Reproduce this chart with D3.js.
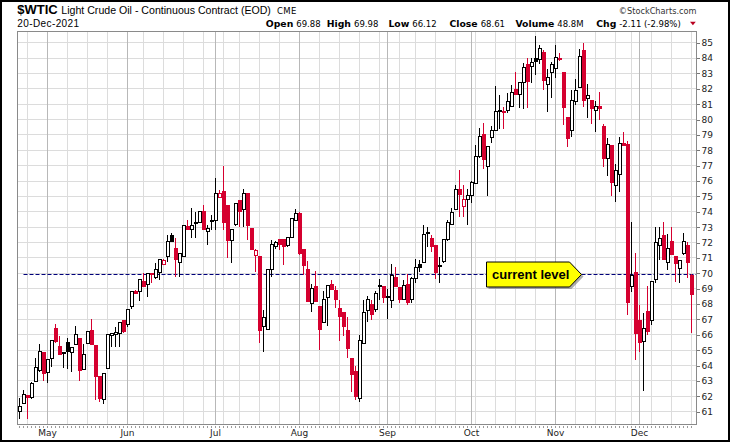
<!DOCTYPE html>
<html>
<head>
<meta charset="utf-8">
<script src="https://cdn.jsdelivr.net/npm/d3@7"></script>
<style>
  body { margin: 0; background: #fff; }
  svg { display: block; }
</style>
</head>
<body>
<div id="chart"></div>
<script>
// trading days shown on the chart
var dates = [
  "2021-04-22","2021-04-23","2021-04-26","2021-04-27","2021-04-28","2021-04-29","2021-04-30",
  "2021-05-03","2021-05-04","2021-05-05","2021-05-06","2021-05-07","2021-05-10","2021-05-11","2021-05-12","2021-05-13","2021-05-14",
  "2021-05-17","2021-05-18","2021-05-19","2021-05-20","2021-05-21","2021-05-24","2021-05-25","2021-05-26","2021-05-27","2021-05-28",
  "2021-06-01","2021-06-02","2021-06-03","2021-06-04","2021-06-07","2021-06-08","2021-06-09","2021-06-10","2021-06-11",
  "2021-06-14","2021-06-15","2021-06-16","2021-06-17","2021-06-18","2021-06-21","2021-06-22","2021-06-23","2021-06-24","2021-06-25",
  "2021-06-28","2021-06-29","2021-06-30",
  "2021-07-01","2021-07-02","2021-07-06","2021-07-07","2021-07-08","2021-07-09","2021-07-12","2021-07-13","2021-07-14","2021-07-15",
  "2021-07-16","2021-07-19","2021-07-20","2021-07-21","2021-07-22","2021-07-23","2021-07-26","2021-07-27","2021-07-28","2021-07-29","2021-07-30",
  "2021-08-02","2021-08-03","2021-08-04","2021-08-05","2021-08-06","2021-08-09","2021-08-10","2021-08-11","2021-08-12","2021-08-13",
  "2021-08-16","2021-08-17","2021-08-18","2021-08-19","2021-08-20","2021-08-23","2021-08-24","2021-08-25","2021-08-26","2021-08-27",
  "2021-08-30","2021-08-31",
  "2021-09-01","2021-09-02","2021-09-03","2021-09-07","2021-09-08","2021-09-09","2021-09-10","2021-09-13","2021-09-14","2021-09-15",
  "2021-09-16","2021-09-17","2021-09-20","2021-09-21","2021-09-22","2021-09-23","2021-09-24","2021-09-27","2021-09-28","2021-09-29","2021-09-30",
  "2021-10-01","2021-10-04","2021-10-05","2021-10-06","2021-10-07","2021-10-08","2021-10-11","2021-10-12","2021-10-13","2021-10-14",
  "2021-10-15","2021-10-18","2021-10-19","2021-10-20","2021-10-21","2021-10-22","2021-10-25","2021-10-26","2021-10-27","2021-10-28","2021-10-29",
  "2021-11-01","2021-11-02","2021-11-03","2021-11-04","2021-11-05","2021-11-08","2021-11-09","2021-11-10","2021-11-11","2021-11-12",
  "2021-11-15","2021-11-16","2021-11-17","2021-11-18","2021-11-19","2021-11-22","2021-11-23","2021-11-24","2021-11-26","2021-11-29","2021-11-30",
  "2021-12-01","2021-12-02","2021-12-03","2021-12-06","2021-12-07","2021-12-08","2021-12-09","2021-12-10","2021-12-13","2021-12-14",
  "2021-12-15","2021-12-16","2021-12-17","2021-12-20"
];

var opens = [
  61.00,61.55,62.05,61.90,62.95,63.65,64.85,
  63.55,64.45,66.40,65.25,64.86,65.50,64.88,65.40,65.77,63.75,65.45,66.25,65.30,63.28,61.80,63.82,65.95,65.99,66.10,66.90,
  66.64,67.87,68.85,68.80,69.50,69.25,70.02,69.70,70.06,70.60,71.08,72.45,71.62,70.70,71.10,73.03,72.86,73.28,73.30,74.00,72.70,73.43,
  73.42,74.95,75.35,74.38,72.12,73.20,74.73,74.16,75.16,72.92,71.18,71.08,66.53,66.36,70.22,71.73,72.17,72.17,71.84,72.34,73.42,
  73.90,71.52,70.28,68.05,69.13,67.83,66.79,68.42,69.30,68.87,67.68,67.44,66.31,64.43,63.60,61.87,65.45,67.61,67.94,67.66,69.24,69.17,
  68.44,68.26,69.72,69.06,68.31,69.30,68.30,69.68,70.60,70.70,72.65,72.27,71.78,70.50,70.76,72.17,73.20,74.12,75.45,74.33,74.77,
  75.05,75.85,77.63,79.00,76.94,78.84,79.32,80.60,80.55,80.56,80.84,81.97,81.60,82.42,83.55,83.45,83.95,83.92,84.35,82.25,83.07,
  83.33,83.98,83.05,80.15,79.32,81.16,82.10,84.52,81.38,81.23,80.62,80.88,79.58,77.48,78.30,75.70,76.40,78.46,78.35,69.13,70.04,
  66.96,65.55,67.50,66.96,69.60,71.84,72.49,70.70,72.06,71.08,70.33,71.26,71.78,69.88
];
var highs = [
  61.87,62.40,62.10,62.90,64.50,65.40,64.90,
  64.45,65.65,66.70,65.90,64.90,65.80,65.23,66.57,65.80,65.40,66.25,67.00,65.30,63.30,63.50,66.00,66.10,66.50,66.85,66.90,
  67.70,68.80,68.90,69.60,70.00,70.05,70.05,70.65,70.90,70.90,72.50,72.60,72.27,71.30,73.15,73.47,74.23,74.00,74.05,74.44,73.14,73.80,
  76.18,75.40,76.98,74.40,72.90,74.55,74.75,75.48,75.20,72.95,71.55,71.10,67.60,70.30,72.15,72.10,72.20,72.20,72.36,73.60,74.16,
  74.00,71.55,70.80,69.28,70.15,67.85,68.85,69.24,69.57,69.17,68.26,67.45,67.18,64.45,63.97,65.99,68.26,68.52,68.26,68.85,69.63,69.20,
  69.00,70.59,70.43,69.10,69.55,69.93,69.75,70.90,70.85,73.14,73.00,72.49,71.80,71.08,72.20,73.47,74.23,75.74,76.72,75.74,75.50,
  76.00,78.35,79.43,79.80,78.30,79.60,82.18,81.60,80.84,81.71,82.25,83.10,82.45,83.66,83.98,84.00,85.41,84.85,84.52,83.27,83.75,
  84.85,84.35,83.10,80.20,81.92,82.62,84.57,84.96,82.30,81.25,81.23,81.82,79.70,78.82,78.35,77.09,78.89,79.20,78.60,73.36,71.30,
  67.94,67.40,69.17,69.50,73.03,73.03,73.36,72.56,72.99,71.10,70.85,72.64,72.06,69.98
];
var lows = [
  60.55,61.50,60.50,61.85,62.90,63.60,63.00,
  62.85,63.90,65.50,64.70,63.85,63.80,63.60,65.35,63.00,63.75,65.40,65.35,61.76,61.60,61.48,63.82,65.23,65.23,65.23,66.10,
  66.50,67.66,68.70,68.20,69.10,68.48,69.35,69.60,69.57,70.60,70.76,72.06,69.74,69.78,71.05,72.80,72.30,72.27,73.25,72.82,71.84,72.80,
  72.82,74.90,72.82,71.02,70.70,73.10,73.00,73.03,72.17,71.55,70.10,65.49,64.90,66.30,69.78,71.60,71.50,70.54,71.70,72.30,73.40,
  71.20,69.89,68.11,67.51,68.20,65.00,66.75,66.60,68.95,67.72,65.62,65.95,64.47,62.30,61.76,61.65,65.40,66.86,66.96,67.50,68.26,68.10,
  67.03,67.77,69.15,68.10,68.28,67.95,68.05,69.35,70.10,70.65,71.73,71.41,69.61,69.35,70.65,72.10,73.15,74.10,73.68,73.68,73.14,
  74.60,75.80,77.50,76.79,75.00,78.50,79.30,79.39,79.39,80.40,80.80,81.60,80.73,80.69,80.73,82.40,82.90,83.60,81.92,80.52,81.38,
  82.68,83.80,79.65,78.20,78.89,80.95,82.05,80.80,80.08,79.71,79.21,79.97,76.89,76.35,75.05,74.66,75.27,78.25,67.29,68.81,64.36,
  64.90,62.37,65.99,66.64,69.40,70.87,70.85,70.22,71.20,69.46,69.35,71.20,69.68,66.12
];
var closes = [
  61.37,62.10,61.90,62.85,63.85,64.90,63.50,
  64.40,65.60,65.55,64.72,64.88,64.90,65.17,66.05,63.71,64.73,66.20,65.40,63.28,61.87,63.50,65.99,66.10,66.16,66.80,66.20,
  67.65,68.80,68.72,69.57,69.13,70.00,69.95,70.26,70.87,70.85,72.06,72.10,70.93,71.30,73.08,72.82,73.08,73.30,74.00,72.82,72.92,73.45,
  75.20,75.16,73.30,72.12,72.88,74.51,74.01,75.20,73.08,71.58,71.50,66.25,67.14,70.28,71.88,72.02,71.88,71.73,72.34,73.58,73.90,
  71.26,70.54,68.16,69.03,68.20,66.35,68.27,69.24,68.98,68.33,67.18,66.53,65.12,63.39,62.02,65.60,67.46,68.31,67.29,68.70,69.13,68.42,
  68.50,69.89,69.17,68.31,69.20,68.09,69.68,70.37,70.40,72.53,72.62,71.73,70.04,70.45,72.17,73.30,73.95,75.42,75.14,74.83,75.05,
  75.90,77.63,78.93,77.41,78.24,79.32,80.51,80.55,80.45,81.17,81.75,81.66,82.42,83.40,82.47,83.70,83.76,84.63,82.57,82.75,83.55,
  84.05,83.88,80.80,78.78,81.27,81.88,84.09,81.27,81.55,80.69,80.84,80.69,77.44,78.39,75.90,76.72,78.46,78.30,68.10,69.89,66.10,
  65.49,66.42,66.20,69.46,71.99,72.27,70.91,71.62,71.23,70.65,70.83,72.06,70.72,68.61
];

var priceTicks = [61,62,63,64,65,66,67,68,69,70,71,72,73,74,75,76,77,78,79,80,81,82,83,84,85];
var currentLevel = 69.9;
var quoteLabels = ["Open", "High", "Low", "Close", "Volume", "Chg"];
var quoteValues = ["69.88", "69.98", "66.12", "68.61", "48.8M", "-2.11 (-2.98%)"];
var quoteValueX = [296.3, 354, 412.3, 480.7, 557.3, 619.3];

var w = 730;
var h = 442;
var plotL = 17.5, plotR = 696.5, plotT = 31.5, plotB = 424.5;
var red = "#d5002f";
var fontSans = "'Liberation Sans', Arial, sans-serif";
var fontAxis = "'DejaVu Sans', Verdana, sans-serif";

var svg = d3.select("#chart")
  .append("svg")
  .attr("width", w)
  .attr("height", h);

svg.append("rect").attr("width", w).attr("height", h).attr("fill", "#fff");

var parse = d3.timeParse("%Y-%m-%d");

var rows = dates.map(function(d, i) {
  var prev = i > 0 ? closes[i - 1] : opens[0];
  return {
    date: d,
    day: parse(d),
    o: opens[i], h: highs[i], l: lows[i], c: closes[i],
    col: closes[i] >= prev ? "#000" : red,
    hollow: closes[i] >= opens[i]
  };
});

var x = d3.scalePoint()
  .domain(dates)
  .range([19.5, 691.5]);

var y = d3.scaleLinear()
  .domain([61, 85])
  .range([411.7, 42.7]);

//month and week starts
var monthStarts = rows.filter(function(d, i) {
  return i > 0 && d.day.getMonth() != rows[i - 1].day.getMonth();
});
var weekStarts = rows.filter(function(d, i) {
  return i > 0 && +d3.timeMonday.floor(d.day) != +d3.timeMonday.floor(rows[i - 1].day);
});

//grid
var grid = svg.append("g").attr("shape-rendering", "crispEdges");

grid.selectAll(".hgrid")
  .data(priceTicks)
  .enter()
  .append("line")
  .attr("x1", plotL).attr("x2", plotR)
  .attr("y1", function(d) { return y(d); })
  .attr("y2", function(d) { return y(d); })
  .attr("stroke", "#dcdcdc");

grid.selectAll(".wgrid")
  .data(weekStarts)
  .enter()
  .append("line")
  .attr("x1", function(d) { return x(d.date); })
  .attr("x2", function(d) { return x(d.date); })
  .attr("y1", plotT).attr("y2", plotB)
  .attr("stroke", "#dcdcdc");

grid.selectAll(".mgrid")
  .data(monthStarts)
  .enter()
  .append("line")
  .attr("x1", function(d) { return x(d.date); })
  .attr("x2", function(d) { return x(d.date); })
  .attr("y1", plotT).attr("y2", plotB)
  .attr("stroke", "#b8b8b8");

//daily ticks under the plot
grid.selectAll(".dtick")
  .data(rows)
  .enter()
  .append("line")
  .attr("x1", function(d) { return x(d.date); })
  .attr("x2", function(d) { return x(d.date); })
  .attr("y1", plotB + 1).attr("y2", plotB + 3)
  .attr("stroke", "#9a9a9a");

//current level dashed line
var levelY = Math.floor(y(currentLevel)) + 0.5;
svg.append("line")
  .attr("x1", x(dates[1])).attr("x2", plotR)
  .attr("y1", levelY).attr("y2", levelY)
  .attr("stroke", "#00007a")
  .attr("stroke-width", 1)
  .attr("stroke-dasharray", "4,2");

//candles
var candles = svg.append("g")
  .attr("shape-rendering", "crispEdges")
  .selectAll("g")
  .data(rows)
  .enter()
  .append("g");

candles.append("line")
  .attr("x1", function(d) { return x(d.date); })
  .attr("x2", function(d) { return x(d.date); })
  .attr("y1", function(d) { return y(d.h); })
  .attr("y2", function(d) { return y(d.l); })
  .attr("stroke", function(d) { return d.col; })
  .attr("stroke-width", 1);

candles.append("rect")
  .attr("x", function(d) { return x(d.date) - 1; })
  .attr("width", 3)
  .attr("y", function(d) { return y(Math.max(d.o, d.c)); })
  .attr("height", function(d) { return Math.max(1, Math.abs(y(d.o) - y(d.c))); })
  .attr("fill", function(d) { return d.hollow ? "#fff" : d.col; })
  .attr("stroke", function(d) { return d.col; })
  .attr("stroke-width", 1);

//plot frame
svg.append("rect")
  .attr("x", plotL).attr("y", plotT)
  .attr("width", plotR - plotL).attr("height", plotB - plotT)
  .attr("fill", "none")
  .attr("stroke", "#8a8a8a")
  .attr("shape-rendering", "crispEdges");

//right price axis
var yAxis = svg.append("g")
  .attr("transform", "translate(" + plotR + ",0)")
  .call(d3.axisRight(y).tickValues(priceTicks).tickSize(3).tickPadding(2).tickFormat(d3.format("d")));
yAxis.select(".domain").remove();
yAxis.selectAll("line").attr("stroke", "#777").attr("shape-rendering", "crispEdges");
yAxis.selectAll("text")
  .attr("font-family", fontAxis)
  .attr("font-size", 9)
  .attr("fill", "#222");

//month labels
svg.selectAll(".mlabel")
  .data(monthStarts)
  .enter()
  .append("text")
  .attr("x", function(d) { return x(d.date); })
  .attr("y", 436)
  .attr("text-anchor", "middle")
  .attr("font-family", fontAxis)
  .attr("font-size", 9)
  .attr("fill", "#222")
  .text(function(d) { return d3.timeFormat("%b")(d.day); });

//callout
var cy = levelY;
var tipX = x(dates[141]) - 2;
var callout = [[tipX - 95, cy - 12.5], [tipX - 12, cy - 12.5], [tipX, cy], [tipX - 12, cy + 12.5], [tipX - 95, cy + 12.5]];
svg.append("polygon")
  .attr("points", callout.map(function(p) { return (p[0] + 2) + "," + (p[1] + 2); }).join(" "))
  .attr("fill", "#777")
  .attr("opacity", 0.6);
svg.append("polygon")
  .attr("points", callout.map(function(p) { return p[0] + "," + p[1]; }).join(" "))
  .attr("fill", "#ffff00")
  .attr("stroke", "#000")
  .attr("stroke-width", 1);
svg.append("text")
  .attr("x", tipX - 89.5)
  .attr("y", cy + 4.5)
  .attr("font-family", fontSans)
  .attr("font-weight", "bold")
  .attr("font-size", 13)
  .attr("fill", "#000")
  .text("current level");

//header row 1
svg.append("text")
  .attr("x", 17.3).attr("y", 14)
  .attr("font-family", fontSans)
  .attr("font-weight", "bold")
  .attr("font-size", 13)
  .text("$WTIC");
svg.append("text")
  .attr("x", 61.3).attr("y", 14)
  .attr("font-family", fontSans)
  .attr("font-size", 10.6)
  .text("Light Crude Oil - Continuous Contract (EOD)");
svg.append("text")
  .attr("x", 277).attr("y", 13.5)
  .attr("font-family", fontAxis)
  .attr("font-size", 8.5)
  .attr("letter-spacing", 0.4)
  .text("CME");
svg.append("text")
  .attr("x", plotR).attr("y", 14.3)
  .attr("text-anchor", "end")
  .attr("font-family", fontAxis)
  .attr("font-size", 8.2)
  .attr("fill", "#333")
  .text("\u00a9StockCharts.com");

//header row 2
svg.append("text")
  .attr("x", 17.3).attr("y", 27.3)
  .attr("font-family", fontSans)
  .attr("font-size", 10)
  .attr("letter-spacing", 0.4)
  .text("20-Dec-2021");

quoteLabels.forEach(function(lab, i) {
  svg.append("text")
    .attr("x", quoteValueX[i] - 3).attr("y", 27.3)
    .attr("text-anchor", "end")
    .attr("font-family", fontAxis)
    .attr("font-weight", "bold")
    .attr("font-size", 9.3)
    .text(lab);
  svg.append("text")
    .attr("x", quoteValueX[i]).attr("y", 27.3)
    .attr("font-family", fontAxis)
    .attr("font-size", 8.5)
    .text(quoteValues[i]);
});

svg.append("polygon")
  .attr("points", "690,21.8 695.8,21.8 692.9,25.3")
  .attr("fill", "#b8001f");

//outer border
svg.append("rect")
  .attr("x", 1).attr("y", 1)
  .attr("width", w - 2).attr("height", h - 2)
  .attr("fill", "none")
  .attr("stroke", "#000")
  .attr("stroke-width", 2);
</script>
</body>
</html>
